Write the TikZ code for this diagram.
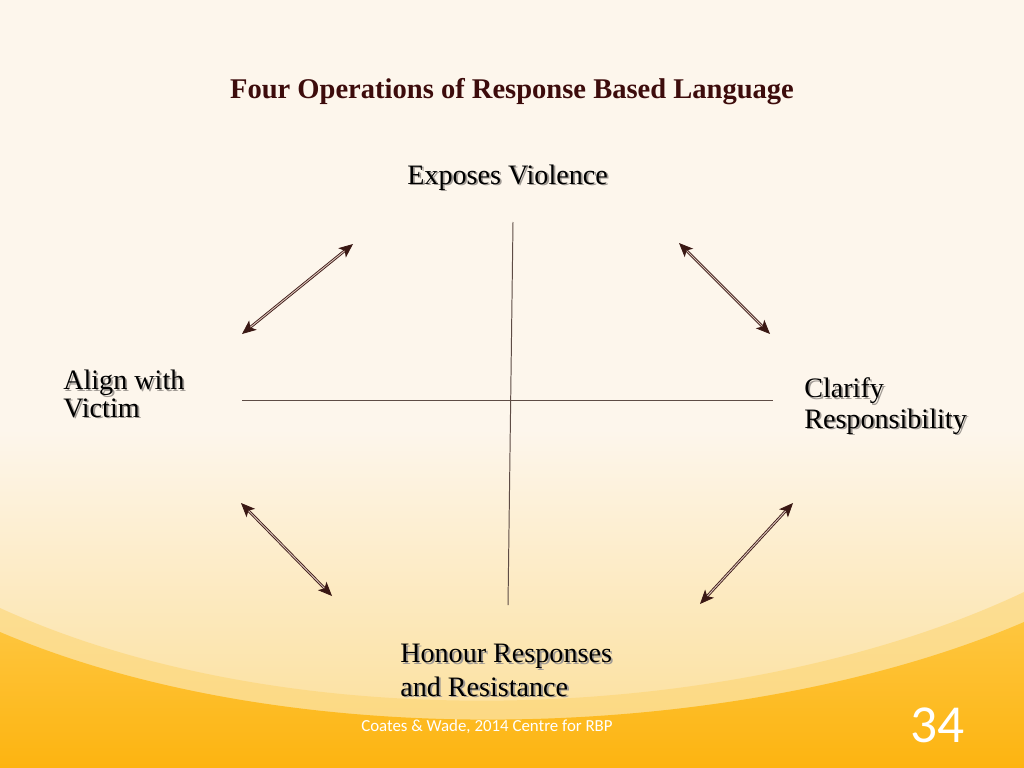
\documentclass[tikz,border=0pt]{standalone}
\usepackage{fontspec}
\setmainfont{Liberation Serif}
\newfontfamily\footfont{Carlito}
\usetikzlibrary{arrows.meta,calc}

\definecolor{bgtop}{HTML}{FDF6EC}
\definecolor{bglow}{HTML}{FCDD92}
\definecolor{bandcol}{HTML}{FDD46E}
\definecolor{orangetop}{HTML}{FEC63F}
\definecolor{orangelow}{HTML}{FDB410}
\definecolor{titlecol}{HTML}{3D0C0C}
\definecolor{axiscol}{HTML}{5E4C45}
\definecolor{arrowdark}{HTML}{3A1814}
\definecolor{arrowlight}{HTML}{D9C0B8}
\definecolor{shadowcol}{HTML}{A09A94}

\newcommand\shadowed[1]{\leavevmode\rlap{\hspace{1.3pt}\raisebox{-1.3pt}{\textcolor{shadowcol}{#1}}}#1}

\tikzset{
  optext/.style={anchor=base west, inner sep=0pt, align=left, font=\fontsize{20}{20}\selectfont},
  axis/.style={draw=axiscol, line width=0.7pt},
  dblarrow/.style={{Stealth[length=10pt,width=8.5pt,inset=2.5pt]}-{Stealth[length=10pt,width=8.5pt,inset=2.5pt]},
    draw=arrowdark, double=arrowlight, double distance=0.7pt, line width=0.6pt}
}

\begin{document}
\begin{tikzpicture}[x=0.025cm,y=-0.025cm]
% background
\useasboundingbox (0,0) rectangle (1024,768);
\fill[bgtop] (0,0) rectangle (1024,768);
\shade[top color=bgtop, bottom color=bglow] (0,430) rectangle (1024,768);
\fill[bandcol, opacity=.55] (0,608) .. controls (300,745) and (750,722) .. (1024,592) -- (1024,768) -- (0,768) -- cycle;
\shade[top color=orangetop, bottom color=orangelow] (0,632) .. controls (300,760) and (750,740) .. (1024,622) -- (1024,768) -- (0,768) -- cycle;

% title and labels
\node[anchor=base, inner sep=0pt, font=\fontsize{20.3}{24}\selectfont\bfseries, text=titlecol] (title) at (512,99) {Four Operations of Response Based Language};
\node[optext] (expose) at (407,184) {\shadowed{Exposes Violence}};
\node[optext] (align) at (63,417) {\shadowed{Align with}\\[-0.5pt]\shadowed{Victim}};
\node[optext, font=\fontsize{20}{21.5}\selectfont] (clarify) at (804,428) {\shadowed{Clarify}\\\shadowed{Responsibility}};
\node[optext, font=\fontsize{20}{23.5}\selectfont] (honour) at (400,696) {\shadowed{Honour Responses}\\\shadowed{and Resistance}};

% axes
\coordinate (vtop) at (513,222);
\coordinate (vbot) at (508,605);
\coordinate (hleft) at (242,400);
\coordinate (hright) at (773,400);
\draw[axis] (vtop) -- (vbot);
\draw[axis] (hleft) -- (hright);

% arrows
\coordinate (tla) at (242,334);
\coordinate (tlb) at (353,244);
\coordinate (tra) at (679,243);
\coordinate (trb) at (770,334);
\coordinate (bla) at (241,503);
\coordinate (blb) at (332,596);
\coordinate (bra) at (793,503);
\coordinate (brb) at (700,604);
\draw[dblarrow] (tla) -- (tlb);
\draw[dblarrow] (tra) -- (trb);
\draw[dblarrow] (bla) -- (blb);
\draw[dblarrow] (bra) -- (brb);

% footer
\node[anchor=base west, inner sep=0pt, text=white, font=\footfont\fontsize{12}{14}\selectfont] (cite) at (361,731) {Coates \& Wade, 2014 Centre for RBP};
\node[anchor=base west, inner sep=0pt, text=white, font=\footfont\fontsize{38}{42}\selectfont] (pagenum) at (910,742) {34};
\end{tikzpicture}
\end{document}
